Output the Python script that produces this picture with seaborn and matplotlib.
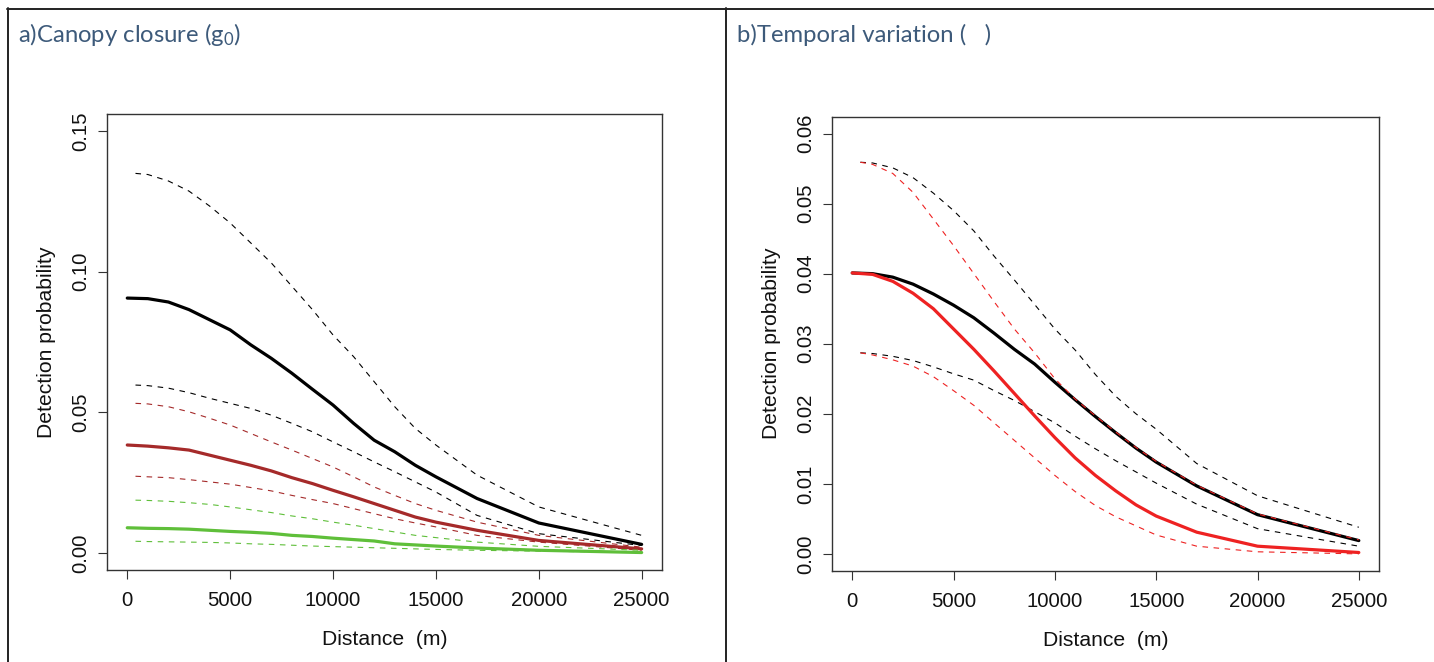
import numpy as np
import pandas as pd
import matplotlib
matplotlib.use("Agg")
import matplotlib.pyplot as plt
import seaborn as sns
from matplotlib.lines import Line2D

# distances (m) at which detection probability was evaluated
distance = [0, 1000, 2000, 3000, 4000, 5000, 6000, 7000, 8000, 9000, 10000,
            11000, 12000, 13000, 14000, 15000, 17000, 20000, 25000]
# confidence bands start slightly right of zero
distance_ci = [400] + distance[1:]

# a) canopy closure
canopy_black = [0.0906, 0.0904, 0.0892, 0.0865, 0.0829, 0.0793, 0.0740, 0.0692, 0.0639, 0.0582,
                0.0526, 0.0461, 0.0401, 0.0360, 0.0312, 0.0271, 0.0194, 0.0107, 0.0031]
canopy_black_hi = [0.1349, 0.1345, 0.1322, 0.1286, 0.1233, 0.1173, 0.1102, 0.1031, 0.0948, 0.0865,
                   0.0775, 0.0698, 0.0609, 0.0520, 0.0443, 0.0384, 0.0277, 0.0164, 0.0063]
canopy_black_lo = [0.0597, 0.0595, 0.0586, 0.0570, 0.0550, 0.0532, 0.0514, 0.0490, 0.0461, 0.0431,
                   0.0395, 0.0360, 0.0324, 0.0289, 0.0253, 0.0217, 0.0134, 0.0069, 0.0027]
canopy_red = [0.0384, 0.0380, 0.0374, 0.0366, 0.0348, 0.0330, 0.0312, 0.0292, 0.0268, 0.0247,
              0.0223, 0.0200, 0.0176, 0.0152, 0.0128, 0.0110, 0.0081, 0.0045, 0.0015]
canopy_red_hi = [0.0532, 0.0530, 0.0520, 0.0502, 0.0479, 0.0455, 0.0425, 0.0395, 0.0366, 0.0336,
                 0.0306, 0.0271, 0.0235, 0.0205, 0.0176, 0.0152, 0.0110, 0.0063, 0.0021]
canopy_red_lo = [0.0273, 0.0271, 0.0268, 0.0261, 0.0253, 0.0245, 0.0233, 0.0221, 0.0205, 0.0190,
                 0.0176, 0.0158, 0.0140, 0.0122, 0.0107, 0.0093, 0.0063, 0.0039, 0.0010]
canopy_green = [0.0090, 0.0088, 0.0087, 0.0085, 0.0081, 0.0077, 0.0074, 0.0070, 0.0063, 0.0059,
                0.0053, 0.0048, 0.0043, 0.0033, 0.0029, 0.0025, 0.0018, 0.0010, 0.0002]
canopy_green_hi = [0.0188, 0.0187, 0.0184, 0.0179, 0.0173, 0.0164, 0.0154, 0.0144, 0.0132, 0.0122,
                   0.0110, 0.0099, 0.0087, 0.0075, 0.0063, 0.0055, 0.0039, 0.0024, 0.0010]
canopy_green_lo = [0.0042, 0.0041, 0.0040, 0.0039, 0.0038, 0.0036, 0.0033, 0.0031, 0.0028, 0.0025,
                   0.0023, 0.0021, 0.0019, 0.0017, 0.0015, 0.0013, 0.0010, 0.0007, 0.0002]

# b) temporal variation
temporal_black = [0.0401, 0.0400, 0.0395, 0.0385, 0.0371, 0.0355, 0.0337, 0.0315, 0.0292, 0.0271,
                  0.0245, 0.0220, 0.0196, 0.0173, 0.0151, 0.0131, 0.0097, 0.0056, 0.0019]
temporal_black_hi = [0.0559, 0.0558, 0.0551, 0.0537, 0.0515, 0.0490, 0.0461, 0.0425, 0.0391, 0.0356,
                     0.0321, 0.0291, 0.0256, 0.0225, 0.0200, 0.0178, 0.0129, 0.0083, 0.0038]
temporal_black_lo = [0.0287, 0.0286, 0.0282, 0.0276, 0.0267, 0.0257, 0.0248, 0.0233, 0.0219, 0.0203,
                     0.0187, 0.0168, 0.0150, 0.0133, 0.0117, 0.0101, 0.0071, 0.0036, 0.0011]
temporal_red = [0.0401, 0.0399, 0.0389, 0.0372, 0.0350, 0.0321, 0.0292, 0.0261, 0.0229, 0.0197,
                0.0166, 0.0137, 0.0112, 0.0090, 0.0070, 0.0054, 0.0031, 0.0011, 0.0002]
temporal_red_hi = [0.0559, 0.0556, 0.0543, 0.0516, 0.0478, 0.0440, 0.0400, 0.0360, 0.0321, 0.0287,
                   0.0250, 0.0221, 0.0197, 0.0174, 0.0152, 0.0132, 0.0098, 0.0057, 0.0020]
temporal_red_lo = [0.0287, 0.0284, 0.0277, 0.0268, 0.0253, 0.0233, 0.0212, 0.0187, 0.0162, 0.0137,
                   0.0112, 0.0089, 0.0069, 0.0053, 0.0040, 0.0027, 0.0011, 0.0003, 0.0000]

sns.set_theme(style="white")
plt.rcParams["font.family"] = ["Liberation Sans", "DejaVu Sans"]
plt.rcParams["mathtext.fontset"] = "custom"
plt.rcParams["mathtext.rm"] = "Lato"
plt.rcParams["mathtext.default"] = "regular"

fig = plt.figure(figsize=(14.34, 6.62), dpi=100)
ax_a = fig.add_axes([0.0744, 0.1390, 0.3874, 0.6888])
ax_b = fig.add_axes([0.5802, 0.1379, 0.3815, 0.6858])

BLACK = "#000000"
BROWN = "#a52a2a"
GREEN = "#5fbf3a"
RED = "#ee2222"
DASH = (0, (5, 5))


def draw(ax, mean, hi, lo, color):
    sns.lineplot(x=distance_ci, y=hi, ax=ax, color=color, lw=0.8, linestyle=DASH)
    sns.lineplot(x=distance_ci, y=lo, ax=ax, color=color, lw=0.8, linestyle=DASH)
    sns.lineplot(x=distance, y=mean, ax=ax, color=color, lw=2.3)


draw(ax_a, canopy_black, canopy_black_hi, canopy_black_lo, BLACK)
draw(ax_a, canopy_red, canopy_red_hi, canopy_red_lo, BROWN)
draw(ax_a, canopy_green, canopy_green_hi, canopy_green_lo, GREEN)

draw(ax_b, temporal_black, temporal_black_hi, temporal_black_lo, BLACK)
draw(ax_b, temporal_red, temporal_red_hi, temporal_red_lo, RED)


def style(ax, ymax, step):
    ax.set_xlim(-1000, 26000)
    ax.set_ylim(-0.04 * ymax, 1.04 * ymax)
    ax.set_xticks(np.arange(0, 25001, 5000))
    ax.set_yticks(np.arange(0, ymax + 1e-9, step))
    ax.set_yticklabels([f"{v:.2f}" for v in np.arange(0, ymax + 1e-9, step)],
                       rotation=90, va="center")
    ax.tick_params(axis="x", bottom=True, length=6.5, width=0.8, color="#333333",
                   pad=8.5, labelsize=14.7, labelcolor="#111111")
    ax.tick_params(axis="y", left=True, length=6.5, width=0.8, color="#333333",
                   pad=5.5, labelsize=14.7, labelcolor="#111111")
    for sp in ax.spines.values():
        sp.set_color("#333333")
        sp.set_linewidth(1.0)
    ax.set_xlabel("Distance  (m)", fontsize=15.2, labelpad=14.5, color="#111111")
    ax.set_ylabel("Detection probability", fontsize=15.2, labelpad=11, color="#111111")
    ax.grid(False)


style(ax_a, 0.15, 0.05)
style(ax_b, 0.06, 0.01)

title_color = "#3d5a7a"
fig.text(18 / 1434, 1 - 35 / 662, "a)Canopy closure (g$_0$)", fontsize=17.2,
         family="Lato", color=title_color, va="center")
fig.text(737 / 1434, 1 - 35 / 662, "b)Temporal variation (   )", fontsize=17.2,
         family="Lato", color=title_color, va="center")

# page frame lines
W, H = 1434, 662
for (x0, y0, x1, y1) in [(7, 8.5, W, 8.5), (7.5, 8, 7.5, H), (725.5, 8, 725.5, H)]:
    fig.add_artist(Line2D([x0 / W, x1 / W], [1 - y0 / H, 1 - y1 / H],
                          transform=fig.transFigure, color="#222222", lw=1.4))

fig.savefig("out.png", dpi=100)
